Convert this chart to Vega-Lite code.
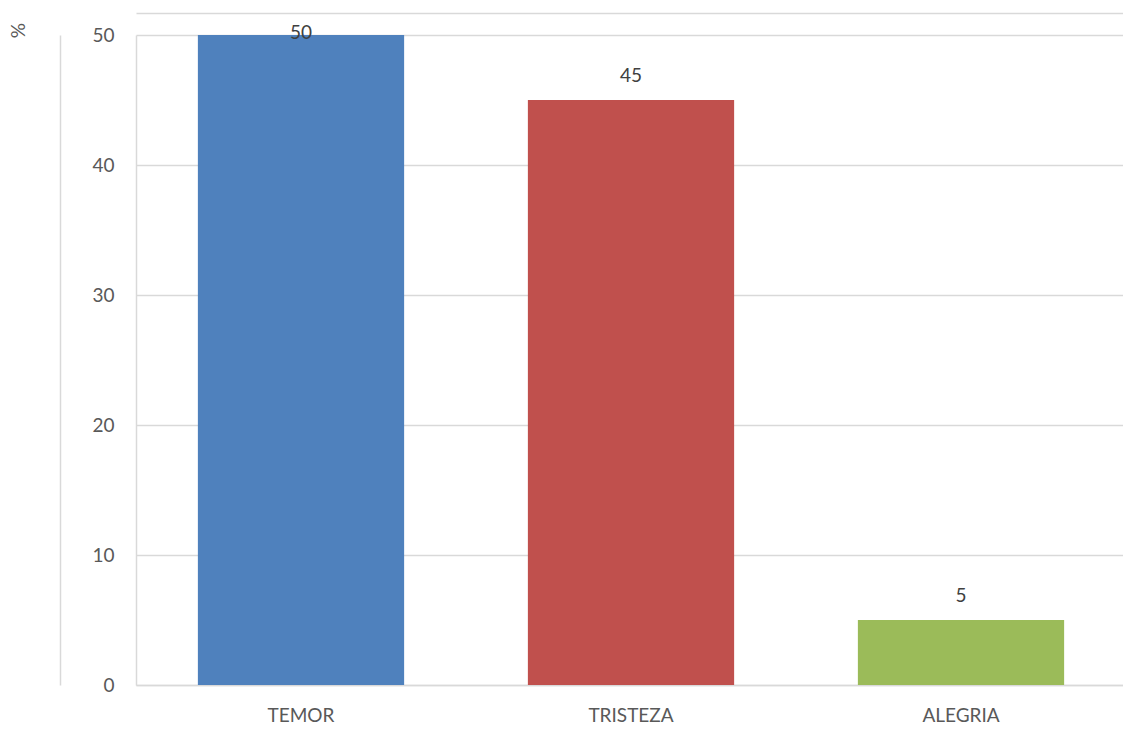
{
  "$schema": "https://vega.github.io/schema/vega-lite/v6.json",
  "autosize": "none",
  "padding": {"left": 136, "top": 35, "right": 0, "bottom": 45},
  "width": 990,
  "height": 650,
  "background": "white",
  "config": {
    "font": "Lato",
    "view": {"stroke": null},
    "axis": {"labelFont": "Lato", "titleFont": "Lato"}
  },
  "data": {
    "values": [
      {"emocion": "TEMOR", "valor": 50},
      {"emocion": "TRISTEZA", "valor": 45},
      {"emocion": "ALEGRIA", "valor": 5}
    ]
  },
  "layer": [
    {
      "mark": {"type": "bar"},
      "encoding": {
        "x": {
          "field": "emocion",
          "type": "nominal",
          "sort": ["TEMOR", "TRISTEZA", "ALEGRIA"],
          "scale": {"paddingInner": 0.375, "paddingOuter": 0.1875},
          "axis": {
            "title": null,
            "labelAngle": 0,
            "labelFontSize": 19,
            "labelColor": "#595959",
            "labelPadding": 21,
            "ticks": false,
            "domainColor": "#d9d9d9",
            "domainWidth": 1.5
          }
        },
        "y": {
          "field": "valor",
          "type": "quantitative",
          "scale": {"domain": [0, 50]},
          "axis": {
            "title": "%",
            "titleAngle": 90,
            "titleX": -120,
            "titleY": -5,
            "titleAlign": "center",
            "titleBaseline": "middle",
            "titleFontSize": 19,
            "titleFontWeight": "normal",
            "titleColor": "#595959",
            "values": [0, 10, 20, 30, 40, 50],
            "labelFontSize": 19,
            "labelColor": "#595959",
            "labelPadding": 22,
            "ticks": false,
            "domainColor": "#d9d9d9",
            "domainWidth": 1.5,
            "gridColor": "#d9d9d9",
            "gridWidth": 1.5
          }
        },
        "color": {
          "field": "emocion",
          "type": "nominal",
          "scale": {
            "domain": ["TEMOR", "TRISTEZA", "ALEGRIA"],
            "range": ["#4F81BD", "#C0504D", "#9BBB59"]
          },
          "legend": null
        }
      }
    },
    {
      "transform": [{"filter": "datum.valor < 50"}],
      "mark": {"type": "text", "baseline": "bottom", "dy": -14, "fontSize": 19, "color": "#404040"},
      "encoding": {
        "x": {"field": "emocion", "type": "nominal", "sort": ["TEMOR", "TRISTEZA", "ALEGRIA"], "axis": null},
        "y": {"field": "valor", "type": "quantitative", "axis": null},
        "text": {"field": "valor", "type": "quantitative"}
      }
    },
    {
      "transform": [{"filter": "datum.valor >= 50"}],
      "mark": {"type": "text", "baseline": "middle", "dy": -2, "fontSize": 19, "color": "#404040"},
      "encoding": {
        "x": {"field": "emocion", "type": "nominal", "sort": ["TEMOR", "TRISTEZA", "ALEGRIA"], "axis": null},
        "y": {"field": "valor", "type": "quantitative", "axis": null},
        "text": {"field": "valor", "type": "quantitative"}
      }
    },
    {
      "mark": {"type": "rule", "opacity": 0},
      "encoding": {
        "x": {
          "field": "emocion",
          "type": "nominal",
          "sort": ["TEMOR", "TRISTEZA", "ALEGRIA"],
          "axis": {
            "orient": "top",
            "offset": 22,
            "title": null,
            "labels": false,
            "ticks": false,
            "grid": false,
            "domainColor": "#d9d9d9",
            "domainWidth": 1.5
          }
        },
        "y": {
          "field": "valor",
          "type": "quantitative",
          "axis": {
            "orient": "left",
            "offset": 76,
            "title": null,
            "labels": false,
            "ticks": false,
            "grid": false,
            "domainColor": "#d9d9d9",
            "domainWidth": 1.5
          }
        }
      }
    }
  ],
  "resolve": {"axis": {"x": "independent", "y": "independent"}}
}
